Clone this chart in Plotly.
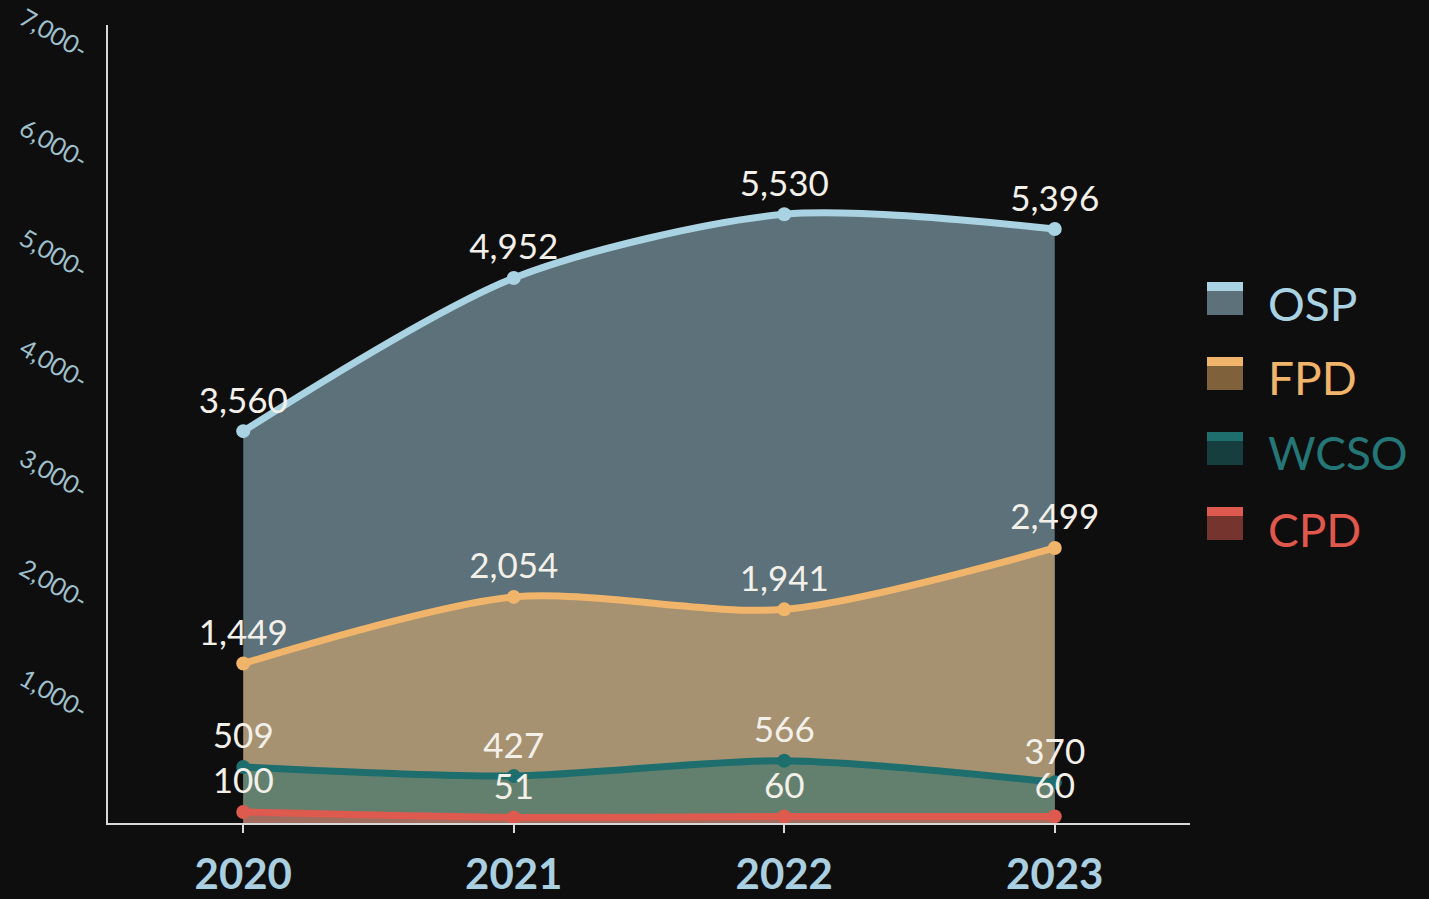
import plotly.graph_objects as go

years = ["2020", "2021", "2022", "2023"]
osp = [3560, 4952, 5530, 5396]
fpd = [1449, 2054, 1941, 2499]
wcso = [509, 427, 566, 370]
cpd = [100, 51, 60, 60]
y_ticks = [1000, 2000, 3000, 4000, 5000, 6000, 7000]
y_tick_labels = ["1,000-", "2,000-", "3,000-", "4,000-", "5,000-", "6,000-", "7,000-"]

series = [
    ("OSP", osp, "#a9d3e3", "rgba(169,211,227,0.5)", "#a9d3e3"),
    ("FPD", fpd, "#f0b46a", "rgba(240,180,106,0.5)", "#f0b46a"),
    ("WCSO", wcso, "#1f6e6e", "rgba(31,110,110,0.5)", "#257676"),
    ("CPD", cpd, "#de5a4f", "rgba(222,90,79,0.5)", "#e0574c"),
]

# plot area in pixels (for legend placement in paper coords)
PL, PR, PT, PB = 108, 1190, 25, 823
def px(x):
    return (x - PL) / (PR - PL)
def py(y):
    return (PB - y) / (PB - PT)

fig = go.Figure()
for name, vals, lc, fc, tc in series:
    fig.add_trace(go.Scatter(
        x=years, y=vals, name=name,
        mode="lines+markers+text",
        line=dict(color=lc, width=7, shape="spline", smoothing=0.8),
        marker=dict(color=lc, size=14),
        fill="tozeroy", fillcolor=fc,
        text=[f"{v:,}" for v in vals],
        textposition="top center",
        textfont=dict(family="Lato", size=35, color="#f3f0ea"),
        cliponaxis=False,
        showlegend=False,
    ))

# custom legend: swatch (fill box with line on top) + coloured label
shapes = []
annotations = []
legend_rows = [(282, 303), (357, 377), (432, 452), (507, 529)]
for (name, vals, lc, fc, tc), (top, cy) in zip(series, legend_rows):
    shapes.append(dict(type="rect", xref="paper", yref="paper",
                       x0=px(1207), x1=px(1243), y0=py(top + 33), y1=py(top + 9),
                       fillcolor=fc, line=dict(width=0), layer="above"))
    shapes.append(dict(type="rect", xref="paper", yref="paper",
                       x0=px(1207), x1=px(1243), y0=py(top + 9), y1=py(top),
                       fillcolor=lc, line=dict(width=0), layer="above"))
    annotations.append(dict(xref="paper", yref="paper", x=px(1266), y=py(cy),
                            xanchor="left", yanchor="middle", text=name,
                            showarrow=False,
                            font=dict(family="Lato", size=46, color=tc)))

fig.update_layout(
    width=1429, height=899,
    paper_bgcolor="#0e0e0e", plot_bgcolor="#0e0e0e",
    margin=dict(l=PL, r=1429 - PR, t=PT, b=899 - PB, autoexpand=False),
    font=dict(family="Lato", color="#a9cfe0"),
    showlegend=False,
    shapes=shapes,
    annotations=annotations,
    xaxis=dict(
        type="category", range=[-0.5, 3.5], automargin=False,
        showgrid=False, zeroline=False,
        showline=True, linecolor="#d8d8d8", linewidth=2,
        ticks="outside", tickcolor="#d8d8d8", ticklen=8, tickwidth=2,
        tickfont=dict(family="Lato", size=42, color="#a9cfe0", weight="bold"),
        ticklabelstandoff=6,
    ),
    yaxis=dict(
        range=[0, 7250], tickvals=y_ticks, ticktext=y_tick_labels, automargin=False,
        showgrid=False, zeroline=False,
        showline=True, linecolor="#d8d8d8", linewidth=2,
        tickangle=30,
        tickfont=dict(family="Lato", size=25, color="#9fc0cc"),
        ticklabelstandoff=14,
    ),
)

fig.write_html(
    "out.html",
    config={"displayModeBar": False},
    post_script="document.body.style.margin='0';document.body.style.overflow='hidden';document.body.style.background='#0e0e0e';",
)
